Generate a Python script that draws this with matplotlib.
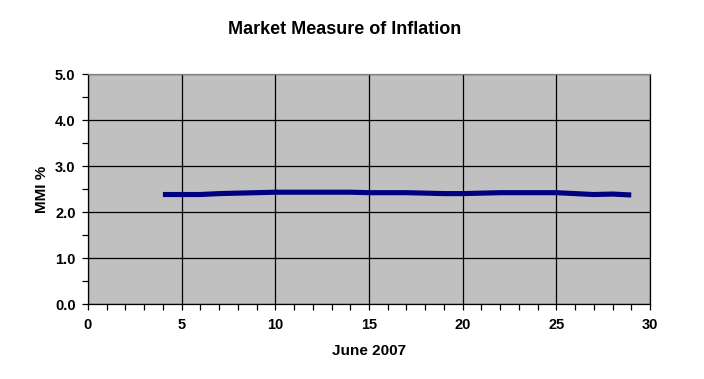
import numpy as np
import matplotlib.pyplot as plt
from matplotlib.ticker import MultipleLocator

# June 2007 daily market measure of inflation (%)
days = [4, 5, 6, 7, 8, 9, 10, 11, 12, 13, 14, 15, 16, 17, 18, 19, 20,
        21, 22, 23, 24, 25, 26, 27, 28, 29]
mmi = [2.38, 2.38, 2.38, 2.40, 2.41, 2.42, 2.43, 2.43, 2.43, 2.43, 2.43,
       2.42, 2.42, 2.42, 2.41, 2.40, 2.40, 2.41, 2.42, 2.42, 2.42, 2.42,
       2.40, 2.38, 2.39, 2.37]

plt.rcParams['font.family'] = ['Liberation Sans', 'DejaVu Sans']

fig = plt.figure(figsize=(7.04, 3.79), dpi=100)
ax = fig.add_axes([88 / 704, 1 - 304 / 379, 562 / 704, 230 / 379])
ax.set_facecolor('#C0C0C0')

ax.plot(days, mmi, color='#000080', linewidth=3.7, solid_capstyle='butt', zorder=3)

ax.set_xlim(0, 30)
ax.set_ylim(0, 5)
ax.xaxis.set_major_locator(MultipleLocator(5))
ax.xaxis.set_minor_locator(MultipleLocator(1))
ax.yaxis.set_major_locator(MultipleLocator(1))
ax.yaxis.set_minor_locator(MultipleLocator(0.5))
ax.set_yticks(np.arange(0, 5.01, 1.0))
ax.set_yticklabels([f'{v:.1f}' for v in np.arange(0, 5.01, 1.0)])

ax.grid(True, which='major', color='black', linewidth=0.9)
ax.set_axisbelow(True)
ax.tick_params(which='both', direction='out', length=4, width=0.9, colors='black',
               labelsize=10.5)
ax.tick_params(axis='x', pad=6)
ax.tick_params(axis='y', pad=5)
for lbl in ax.get_xticklabels() + ax.get_yticklabels():
    lbl.set_fontweight('bold')

ax.spines['top'].set_color('#808080')
ax.spines['right'].set_color('black')
for s in ax.spines.values():
    s.set_linewidth(0.9)

ax.set_xlabel('June 2007', fontsize=11, fontweight='bold', labelpad=9)
ax.set_ylabel('MMI %', fontsize=11, fontweight='bold', labelpad=4)
fig.text(345 / 704, 1 - 29 / 379, 'Market Measure of Inflation', ha='center', va='center',
         fontsize=13, fontweight='bold')

fig.savefig('out.png', dpi=100)
